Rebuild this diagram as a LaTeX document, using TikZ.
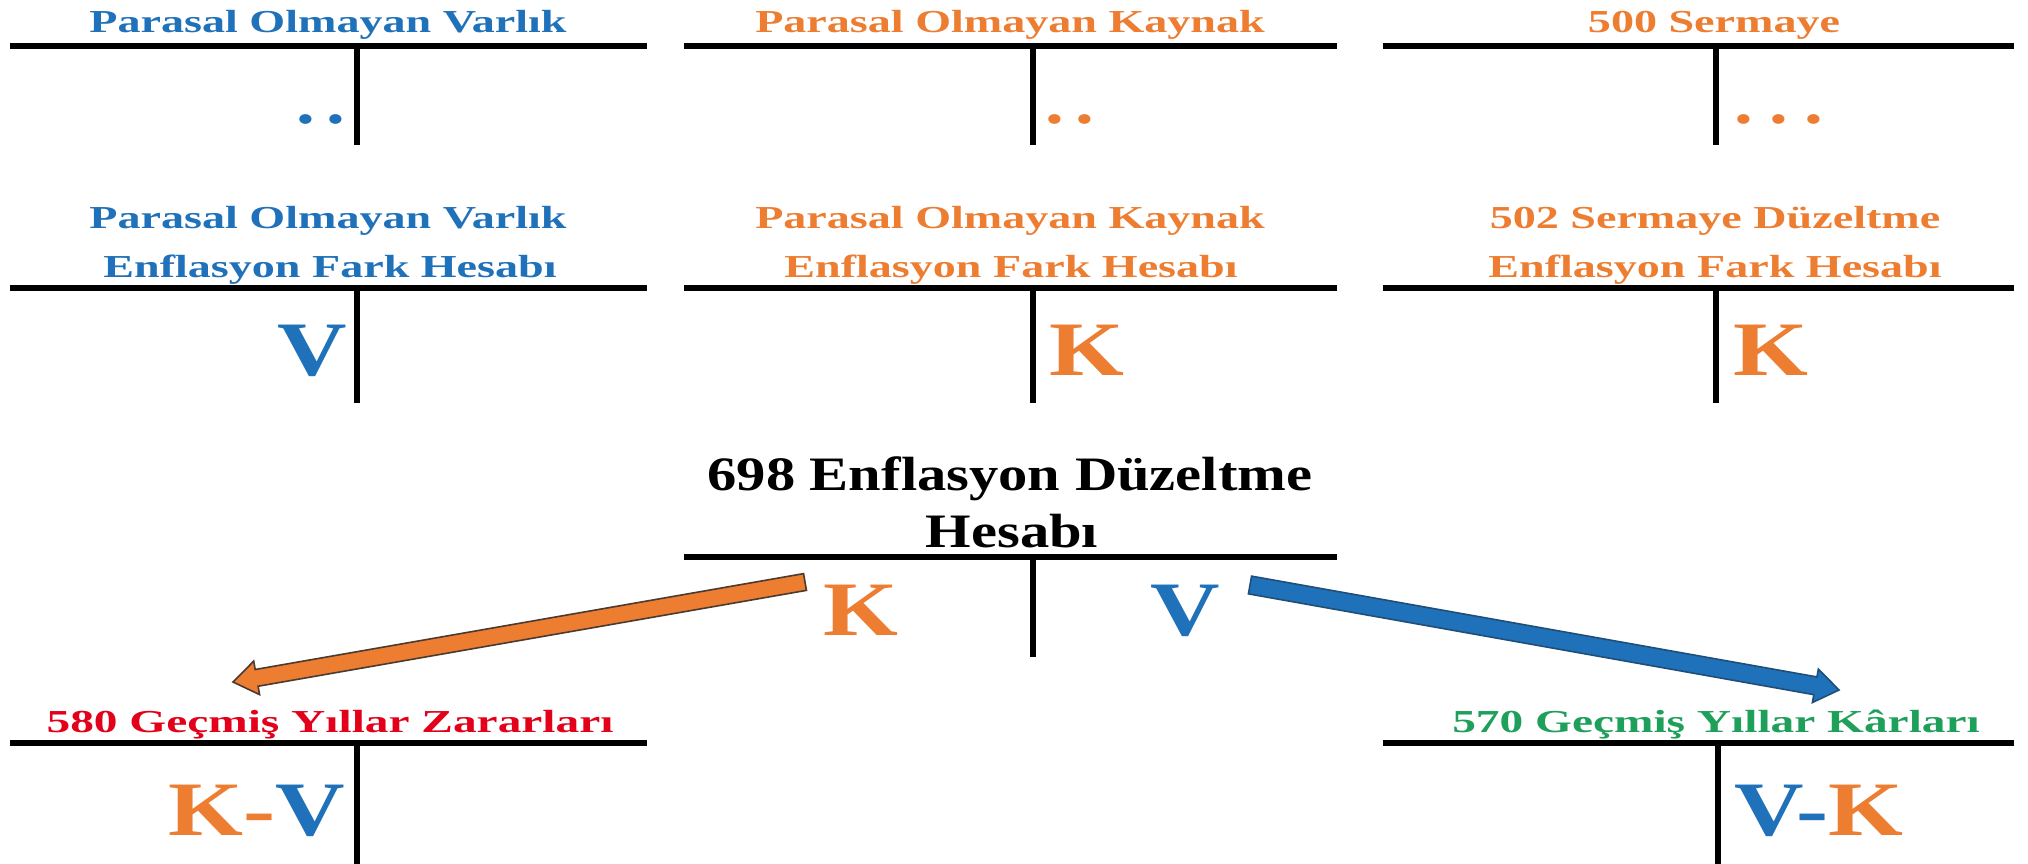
\documentclass[tikz,border=0pt]{standalone}
\usepackage{fontspec}
\setmainfont{Liberation Serif}
\usetikzlibrary{calc}
\definecolor{cblue}{HTML}{1F71BA}
\definecolor{corange}{HTML}{ED7D31}
\definecolor{cred}{HTML}{E3001B}
\definecolor{cgreen}{HTML}{1EA05A}
\definecolor{cblueedge}{HTML}{1F4E79}
\definecolor{corangeedge}{HTML}{4A3A30}
\newcommand\stx[3]{\scalebox{#1}[1]{\fontsize{#2pt}{#2pt}\selectfont\bfseries #3}}
\begin{document}
\begin{tikzpicture}[x=1pt,y=-1pt,
  lbl/.style={anchor=base,inner sep=0pt,outer sep=0pt},
  tline/.style={line width=5.5pt,black},
  oarrow/.style={fill=corange,draw=corangeedge,line width=1.6pt,line join=miter},
  barrow/.style={fill=cblue,draw=cblueedge,line width=1.6pt,line join=miter}]
\useasboundingbox (0,0) rectangle (2028,864);
\fill[white] (0,0) rectangle (2028,864);

% T-account lines
\draw[tline] (10,46) -- (647,46);   \draw[tline] (357,46) -- (357,145);
\draw[tline] (684,46) -- (1337,46); \draw[tline] (1033,46) -- (1033,145);
\draw[tline] (1383,46) -- (2014,46);\draw[tline] (1716,46) -- (1716,145);

\draw[tline] (10,288) -- (647,288);   \draw[tline] (357,288) -- (357,403);
\draw[tline] (684,288) -- (1337,288); \draw[tline] (1033,288) -- (1033,403);
\draw[tline] (1383,288) -- (2014,288);\draw[tline] (1716,288) -- (1716,403);

\draw[tline] (684,557) -- (1337,557); \draw[tline] (1033,557) -- (1033,657);

\draw[tline] (10,743) -- (647,743);   \draw[tline] (357,743) -- (357,864);
\draw[tline] (1383,743) -- (2014,743);\draw[tline] (1718,743) -- (1718,864);

% Row 1 titles
\node[lbl,text=cblue]   (t1) at (328,33)  {\stx{1.44}{32}{Parasal Olmayan Varlık}};
\node[lbl,text=corange] (t2) at (1010,33) {\stx{1.44}{32}{Parasal Olmayan Kaynak}};
\node[lbl,text=corange] (t3) at (1714,33) {\stx{1.44}{32}{500 Sermaye}};
% Row 1 dots
\node[lbl,text=cblue]   (d1) at (321,124)  {\stx{1.25}{60}{.\kern9pt.}};
\node[lbl,text=corange] (d2) at (1070,124) {\stx{1.25}{60}{.\kern9pt.}};
\node[lbl,text=corange] (d3) at (1779,124) {\stx{1.25}{60}{.\kern13pt.\kern13pt.}};

% Row 2 titles
\node[lbl,text=cblue]   (u1a) at (328,228)  {\stx{1.44}{32}{Parasal Olmayan Varlık}};
\node[lbl,text=cblue]   (u1b) at (330,277)  {\stx{1.44}{32}{Enflasyon Fark Hesabı}};
\node[lbl,text=corange] (u2a) at (1010,228) {\stx{1.44}{32}{Parasal Olmayan Kaynak}};
\node[lbl,text=corange] (u2b) at (1011,277) {\stx{1.44}{32}{Enflasyon Fark Hesabı}};
\node[lbl,text=corange] (u3a) at (1715,228) {\stx{1.44}{32}{502 Sermaye Düzeltme}};
\node[lbl,text=corange] (u3b) at (1715,277) {\stx{1.44}{32}{Enflasyon Fark Hesabı}};
% Row 2 letters
\node[lbl,text=cblue]   (v1) at (312,375)  {\stx{1.25}{77}{V}};
\node[lbl,text=corange] (k2) at (1087,375) {\stx{1.25}{77}{K}};
\node[lbl,text=corange] (k3) at (1771,375) {\stx{1.25}{77}{K}};

% Row 3
\node[lbl,text=black] (m1) at (1010,490) {\stx{1.22}{48}{698 Enflasyon Düzeltme}};
\node[lbl,text=black] (m2) at (1012,547) {\stx{1.22}{48}{Hesabı}};
\node[lbl,text=corange] (mk) at (861,635)  {\stx{1.25}{77}{K}};
\node[lbl,text=cblue]   (mv) at (1185,635) {\stx{1.25}{77}{V}};

% Row 4
\node[lbl,text=cred]   (z1) at (330,732)  {\stx{1.48}{32}{580 Geçmiş Yıllar Zararları}};
\node[lbl,text=cgreen] (z2) at (1716,732) {\stx{1.48}{32}{570 Geçmiş Yıllar Kârları}};
\node[lbl] (kv) at (257,835)  {\stx{1.25}{77}{\textcolor{corange}{K-}\textcolor{cblue}{V}}};
\node[lbl] (vk) at (1819,835) {\stx{1.25}{77}{\textcolor{cblue}{V-}\textcolor{corange}{K}}};

% Arrows
\coordinate (oa) at (805,582);
\coordinate (ob) at (233,682);
\coordinate (oh) at ($(ob)!24pt!(oa)$);
\draw[oarrow] ($(oa)!8.5pt!90:(ob)$) -- ($(oh)!8.5pt!90:(ob)$) -- ($(oh)!17pt!90:(ob)$) -- (ob)
  -- ($(oh)!17pt!-90:(ob)$) -- ($(oh)!8.5pt!-90:(ob)$) -- ($(oa)!8.5pt!-90:(ob)$) -- cycle;

\coordinate (ba) at (1250,585);
\coordinate (bb) at (1839,690);
\coordinate (bh) at ($(bb)!24pt!(ba)$);
\draw[barrow] ($(ba)!9pt!90:(bb)$) -- ($(bh)!9pt!90:(bb)$) -- ($(bh)!17pt!90:(bb)$) -- (bb)
  -- ($(bh)!17pt!-90:(bb)$) -- ($(bh)!9pt!-90:(bb)$) -- ($(ba)!9pt!-90:(bb)$) -- cycle;
\end{tikzpicture}
\end{document}
